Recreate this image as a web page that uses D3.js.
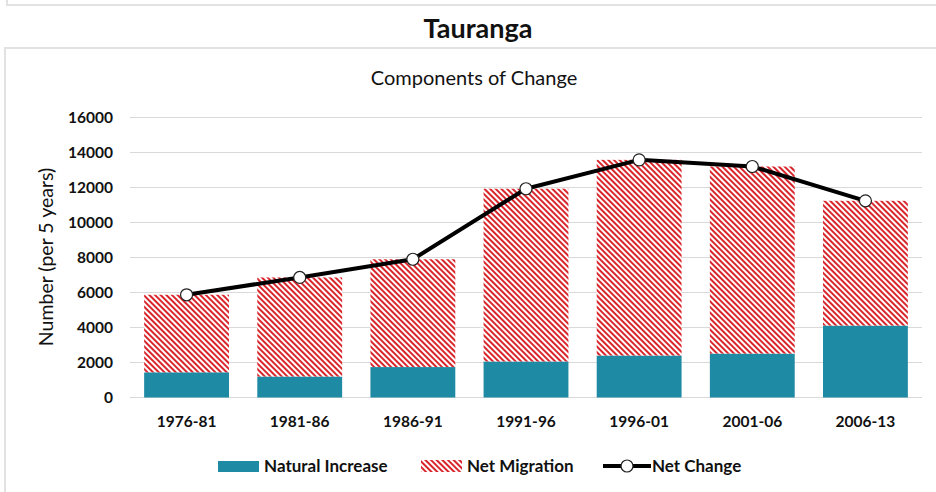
<!DOCTYPE html>
<html>
<head>
	<meta charset="UTF-8" />
	<title>Tauranga - Components of Change</title>
	<script src="https://cdn.jsdelivr.net/npm/d3@7/dist/d3.min.js"></script>
	<style>
		body { margin:0; background:#fff; }
		svg text { font-family: Lato, "Open Sans", sans-serif; fill:#111; }
	</style>
</head>
<body>
<div id="chart"></div>
<script type="text/javascript">
	// data
	var periods = ["1976-81","1981-86","1986-91","1991-96","1996-01","2001-06","2006-13"];
	var naturalIncrease = [1440, 1200, 1740, 2060, 2400, 2510, 4110];
	var netChange = [5870, 6860, 7900, 11930, 13580, 13200, 11240];
	var netMigration = netChange.map(function(v,i){ return v - naturalIncrease[i]; });
	var yTicks = [0,2000,4000,6000,8000,10000,12000,14000,16000];
	var legendLabels = ["Natural Increase","Net Migration","Net Change"];

	var W = 936, H = 492;
	var teal = "#1e8aa3", red = "#d8262c";

	var svg = d3.select("#chart").append("svg")
		.attr("width",W)
		.attr("height",H);

	// outer frames (the page panel edges)
	svg.append("path")
		.attr("d","M7 -2 L7 5 L940 5")
		.attr("fill","none").attr("stroke","#e2e2e2").attr("stroke-width",2);
	svg.append("path")
		.attr("d","M5 500 L5 48 L940 48")
		.attr("fill","none").attr("stroke","#e2e2e2").attr("stroke-width",2);

	svg.append("text")
		.attr("x",478).attr("y",38)
		.attr("text-anchor","middle")
		.style("font-size","27px").style("font-weight","bold")
		.text("Tauranga");

	svg.append("text")
		.attr("x",474).attr("y",85)
		.attr("text-anchor","middle")
		.style("font-size","20px")
		.text("Components of Change");

	// hatch for net migration
	var defs = svg.append("defs");
	var pat = defs.append("pattern")
		.attr("id","hatch")
		.attr("patternUnits","userSpaceOnUse")
		.attr("width",4).attr("height",4)
		.attr("patternTransform","rotate(-45)");
	pat.append("rect").attr("width",4).attr("height",4).attr("fill","#fff");
	pat.append("line")
		.attr("x1",1).attr("y1",0).attr("x2",1).attr("y2",4)
		.attr("stroke",red).attr("stroke-width",2);

	var x = d3.scaleBand().domain(periods).range([130,922]).paddingInner(0.25).paddingOuter(0.125);
	var y = d3.scaleLinear().domain([0,16000]).range([397.5,117.5]);

	// gridlines
	svg.append("g").selectAll("line").data(yTicks).enter().append("line")
		.attr("x1",130).attr("x2",922)
		.attr("y1",function(d){ return y(d); }).attr("y2",function(d){ return y(d); })
		.attr("stroke","#d9d9d9").attr("stroke-width",1);

	// y axis
	var yAxis = svg.append("g")
		.attr("transform","translate(113,0)")
		.call(d3.axisLeft(y).tickValues(yTicks).tickSize(0).tickPadding(0).tickFormat(d3.format("d")));
	yAxis.select(".domain").remove();
	yAxis.selectAll("text").style("font-size","15.5px").style("font-weight","bold").attr("dy","0.35em");

	svg.append("text")
		.attr("transform","translate(53,257) rotate(-90)")
		.attr("text-anchor","middle")
		.style("font-size","19.5px")
		.text("Number (per 5 years)");

	// x axis
	var xAxis = svg.append("g")
		.attr("transform","translate(0,416)")
		.call(d3.axisBottom(x).tickSize(0).tickPadding(0));
	xAxis.select(".domain").remove();
	xAxis.selectAll("text").style("font-size","15.5px").style("font-weight","bold").attr("dy","0.71em");

	// stacked bars
	var bars = svg.append("g");
	bars.selectAll(".ni").data(periods).enter().append("rect")
		.attr("x",function(d){ return x(d); })
		.attr("width",x.bandwidth())
		.attr("y",function(d,i){ return y(naturalIncrease[i]); })
		.attr("height",function(d,i){ return y(0)-y(naturalIncrease[i]); })
		.attr("fill",teal);
	bars.selectAll(".nm").data(periods).enter().append("rect")
		.attr("x",function(d){ return x(d); })
		.attr("width",x.bandwidth())
		.attr("y",function(d,i){ return y(naturalIncrease[i]+netMigration[i]); })
		.attr("height",function(d,i){ return y(naturalIncrease[i])-y(naturalIncrease[i]+netMigration[i]); })
		.attr("fill","url(#hatch)");

	// net change line
	var line = d3.line()
		.x(function(d,i){ return x(periods[i])+x.bandwidth()/2; })
		.y(function(d){ return y(d); });
	svg.append("path")
		.datum(netChange)
		.attr("d",line)
		.attr("fill","none").attr("stroke","#000").attr("stroke-width",4)
		.attr("stroke-linejoin","round");
	svg.append("g").selectAll("circle").data(netChange).enter().append("circle")
		.attr("cx",function(d,i){ return x(periods[i])+x.bandwidth()/2; })
		.attr("cy",function(d){ return y(d); })
		.attr("r",6)
		.attr("fill","#fff").attr("stroke","#222").attr("stroke-width",1.2);

	// legend
	var lg = svg.append("g").attr("transform","translate(0,466)");
	lg.append("rect").attr("x",218).attr("y",-5).attr("width",41).attr("height",11).attr("fill",teal);
	lg.append("text").attr("x",264).attr("y",0).attr("dy","0.35em")
		.style("font-size","17px").style("font-weight","bold").text(legendLabels[0]);
	lg.append("rect").attr("x",421).attr("y",-6).attr("width",41).attr("height",12).attr("fill","url(#hatch)");
	lg.append("text").attr("x",467).attr("y",0).attr("dy","0.35em")
		.style("font-size","17px").style("font-weight","bold").text(legendLabels[1]);
	lg.append("line").attr("x1",603).attr("x2",651).attr("y1",0).attr("y2",0)
		.attr("stroke","#000").attr("stroke-width",4);
	lg.append("circle").attr("cx",627).attr("cy",0).attr("r",6)
		.attr("fill","#fff").attr("stroke","#222").attr("stroke-width",1.2);
	lg.append("text").attr("x",652).attr("y",0).attr("dy","0.35em")
		.style("font-size","17px").style("font-weight","bold").text(legendLabels[2]);
</script>
</body>
</html>
